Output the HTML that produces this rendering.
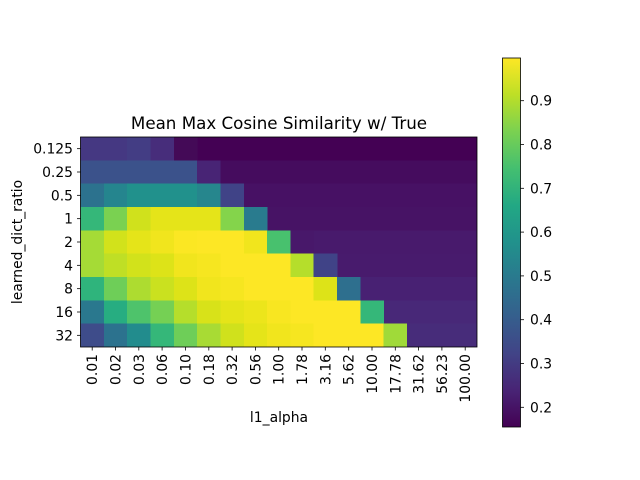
<!DOCTYPE html>
<html><head><meta charset="utf-8"><style>
html,body{margin:0;padding:0;background:#fff;}
svg{display:block;font-family:"DejaVu Sans","Liberation Sans",sans-serif;}
</style></head><body>
<svg width="640" height="480" viewBox="0 0 640 480" xmlns="http://www.w3.org/2000/svg">
<rect width="640" height="480" fill="#fff"/>
<defs><linearGradient id="vir" x1="0" y1="1" x2="0" y2="0">
<stop offset="0" stop-color="#440154"/><stop offset="0.1" stop-color="#482475"/><stop offset="0.2" stop-color="#414487"/><stop offset="0.3" stop-color="#355f8d"/><stop offset="0.4" stop-color="#2a788e"/><stop offset="0.5" stop-color="#21918c"/><stop offset="0.6" stop-color="#22a884"/><stop offset="0.7" stop-color="#44bf70"/><stop offset="0.8" stop-color="#7ad151"/><stop offset="0.9" stop-color="#bddf26"/><stop offset="1" stop-color="#fde725"/>
</linearGradient></defs>
<g shape-rendering="crispEdges" transform="translate(80.5,0) scale(0.941176,1) translate(-80.5,0)">
<rect x="80.5" y="137" width="421.3" height="23.8" fill="#440154"/>
<rect x="80.5" y="137" width="49.8" height="23.8" fill="#453882"/>
<rect x="130.06" y="137" width="25" height="23.8" fill="#433d84"/>
<rect x="154.84" y="137" width="25" height="23.8" fill="#472d7b"/>
<rect x="179.63" y="137" width="25" height="23.8" fill="#440a57"/>
<rect x="80.5" y="160.33" width="421.3" height="23.8" fill="#450c5e"/>
<rect x="80.5" y="160.33" width="124.2" height="23.8" fill="#3b528b"/>
<rect x="204.41" y="160.33" width="25" height="23.8" fill="#482475"/>
<rect x="80.5" y="183.67" width="421.3" height="23.8" fill="#471164"/>
<rect x="80.5" y="183.67" width="25" height="23.8" fill="#2c728e"/>
<rect x="105.28" y="183.67" width="25" height="23.8" fill="#25858e"/>
<rect x="130.06" y="183.67" width="74.6" height="23.8" fill="#21918c"/>
<rect x="204.41" y="183.67" width="25" height="23.8" fill="#26868d"/>
<rect x="229.19" y="183.67" width="25" height="23.8" fill="#404387"/>
<rect x="80.5" y="207" width="421.3" height="23.8" fill="#471365"/>
<rect x="80.5" y="207" width="25" height="23.8" fill="#35b779"/>
<rect x="105.28" y="207" width="25" height="23.8" fill="#7ad151"/>
<rect x="130.06" y="207" width="25" height="23.8" fill="#d0e11c"/>
<rect x="154.84" y="207" width="74.6" height="23.8" fill="#e5e419"/>
<rect x="229.19" y="207" width="25" height="23.8" fill="#84d44b"/>
<rect x="253.97" y="207" width="25" height="23.8" fill="#297b8e"/>
<rect x="80.5" y="230.33" width="421.3" height="23.8" fill="#481a6c"/>
<rect x="80.5" y="230.33" width="25" height="23.8" fill="#a5db36"/>
<rect x="105.28" y="230.33" width="25" height="23.8" fill="#d2e21b"/>
<rect x="130.06" y="230.33" width="25" height="23.8" fill="#e5e419"/>
<rect x="154.84" y="230.33" width="25" height="23.8" fill="#f1e51d"/>
<rect x="179.63" y="230.33" width="25" height="23.8" fill="#fbe723"/>
<rect x="204.41" y="230.33" width="49.8" height="23.8" fill="#fde725"/>
<rect x="253.97" y="230.33" width="25" height="23.8" fill="#f1e51d"/>
<rect x="278.75" y="230.33" width="25" height="23.8" fill="#48c16e"/>
<rect x="303.53" y="230.33" width="25" height="23.8" fill="#48186a"/>
<rect x="80.5" y="253.67" width="421.3" height="23.8" fill="#481b6d"/>
<rect x="80.5" y="253.67" width="25" height="23.8" fill="#a5db36"/>
<rect x="105.28" y="253.67" width="25" height="23.8" fill="#bfdf25"/>
<rect x="130.06" y="253.67" width="25" height="23.8" fill="#d2e21b"/>
<rect x="154.84" y="253.67" width="25" height="23.8" fill="#dde318"/>
<rect x="179.63" y="253.67" width="25" height="23.8" fill="#f1e51d"/>
<rect x="204.41" y="253.67" width="25" height="23.8" fill="#f6e620"/>
<rect x="229.19" y="253.67" width="74.6" height="23.8" fill="#fde725"/>
<rect x="303.53" y="253.67" width="25" height="23.8" fill="#b5de2b"/>
<rect x="328.31" y="253.67" width="25" height="23.8" fill="#404387"/>
<rect x="80.5" y="277" width="421.3" height="23.8" fill="#482173"/>
<rect x="80.5" y="277" width="25" height="23.8" fill="#2fb47c"/>
<rect x="105.28" y="277" width="25" height="23.8" fill="#6ece58"/>
<rect x="130.06" y="277" width="25" height="23.8" fill="#addc30"/>
<rect x="154.84" y="277" width="25" height="23.8" fill="#cae11f"/>
<rect x="179.63" y="277" width="25" height="23.8" fill="#dde318"/>
<rect x="204.41" y="277" width="25" height="23.8" fill="#f1e51d"/>
<rect x="229.19" y="277" width="25" height="23.8" fill="#f6e620"/>
<rect x="253.97" y="277" width="74.6" height="23.8" fill="#fde725"/>
<rect x="328.31" y="277" width="25" height="23.8" fill="#dde318"/>
<rect x="353.09" y="277" width="25" height="23.8" fill="#2e6f8e"/>
<rect x="80.5" y="300.33" width="421.3" height="23.8" fill="#482878"/>
<rect x="80.5" y="300.33" width="25" height="23.8" fill="#2a788e"/>
<rect x="105.28" y="300.33" width="25" height="23.8" fill="#27ad81"/>
<rect x="130.06" y="300.33" width="25" height="23.8" fill="#4ec36b"/>
<rect x="154.84" y="300.33" width="25" height="23.8" fill="#75d054"/>
<rect x="179.63" y="300.33" width="25" height="23.8" fill="#b5de2b"/>
<rect x="204.41" y="300.33" width="25" height="23.8" fill="#d8e219"/>
<rect x="229.19" y="300.33" width="25" height="23.8" fill="#e5e419"/>
<rect x="253.97" y="300.33" width="25" height="23.8" fill="#ece51b"/>
<rect x="278.75" y="300.33" width="25" height="23.8" fill="#f8e621"/>
<rect x="303.53" y="300.33" width="74.6" height="23.8" fill="#fde725"/>
<rect x="377.88" y="300.33" width="25" height="23.8" fill="#35b779"/>
<rect x="80.5" y="323.67" width="421.3" height="23.33" fill="#472c7a"/>
<rect x="80.5" y="323.67" width="25" height="23.33" fill="#3e4c8a"/>
<rect x="105.28" y="323.67" width="25" height="23.33" fill="#2c728e"/>
<rect x="130.06" y="323.67" width="25" height="23.33" fill="#228c8d"/>
<rect x="154.84" y="323.67" width="25" height="23.33" fill="#35b779"/>
<rect x="179.63" y="323.67" width="25" height="23.33" fill="#6ece58"/>
<rect x="204.41" y="323.67" width="25" height="23.33" fill="#a8db34"/>
<rect x="229.19" y="323.67" width="25" height="23.33" fill="#d0e11c"/>
<rect x="253.97" y="323.67" width="25" height="23.33" fill="#e5e419"/>
<rect x="278.75" y="323.67" width="25" height="23.33" fill="#f1e51d"/>
<rect x="303.53" y="323.67" width="25" height="23.33" fill="#f6e620"/>
<rect x="328.31" y="323.67" width="74.6" height="23.33" fill="#fde725"/>
<rect x="402.66" y="323.67" width="25" height="23.33" fill="#a0da39"/>
</g>
<rect x="80.5" y="137" width="396.5" height="210" fill="none" stroke="#000" stroke-width="0.8"/>
<g stroke="#000" stroke-width="0.8">
<line x1="77" x2="80.5" y1="148.67" y2="148.67"/><line x1="77" x2="80.5" y1="172" y2="172"/><line x1="77" x2="80.5" y1="195.33" y2="195.33"/><line x1="77" x2="80.5" y1="218.67" y2="218.67"/><line x1="77" x2="80.5" y1="242" y2="242"/><line x1="77" x2="80.5" y1="265.33" y2="265.33"/><line x1="77" x2="80.5" y1="288.67" y2="288.67"/><line x1="77" x2="80.5" y1="312" y2="312"/><line x1="77" x2="80.5" y1="335.33" y2="335.33"/>
<line x1="92.2" x2="92.2" y1="347" y2="350.5"/><line x1="115.5" x2="115.5" y1="347" y2="350.5"/><line x1="138.8" x2="138.8" y1="347" y2="350.5"/><line x1="162.1" x2="162.1" y1="347" y2="350.5"/><line x1="185.4" x2="185.4" y1="347" y2="350.5"/><line x1="208.8" x2="208.8" y1="347" y2="350.5"/><line x1="232.1" x2="232.1" y1="347" y2="350.5"/><line x1="255.4" x2="255.4" y1="347" y2="350.5"/><line x1="278.7" x2="278.7" y1="347" y2="350.5"/><line x1="302" x2="302" y1="347" y2="350.5"/><line x1="325.3" x2="325.3" y1="347" y2="350.5"/><line x1="348.7" x2="348.7" y1="347" y2="350.5"/><line x1="372" x2="372" y1="347" y2="350.5"/><line x1="395.3" x2="395.3" y1="347" y2="350.5"/><line x1="418.6" x2="418.6" y1="347" y2="350.5"/><line x1="441.9" x2="441.9" y1="347" y2="350.5"/><line x1="465.2" x2="465.2" y1="347" y2="350.5"/>
</g>
<g font-size="13.9" text-anchor="end">
<text x="73" y="153.7">0.125</text><text x="73" y="177">0.25</text><text x="73" y="200.3">0.5</text><text x="73" y="223.7">1</text><text x="73" y="247">2</text><text x="73" y="270.3">4</text><text x="73" y="293.7">8</text><text x="73" y="317">16</text><text x="73" y="340.3">32</text>
<text transform="translate(97.2,354) rotate(-90)">0.01</text>
<text transform="translate(120.5,354) rotate(-90)">0.02</text>
<text transform="translate(143.8,354) rotate(-90)">0.03</text>
<text transform="translate(167.1,354) rotate(-90)">0.06</text>
<text transform="translate(190.4,354) rotate(-90)">0.10</text>
<text transform="translate(213.8,354) rotate(-90)">0.18</text>
<text transform="translate(237.1,354) rotate(-90)">0.32</text>
<text transform="translate(260.4,354) rotate(-90)">0.56</text>
<text transform="translate(283.7,354) rotate(-90)">1.00</text>
<text transform="translate(307,354) rotate(-90)">1.78</text>
<text transform="translate(330.3,354) rotate(-90)">3.16</text>
<text transform="translate(353.7,354) rotate(-90)">5.62</text>
<text transform="translate(377,354) rotate(-90)">10.00</text>
<text transform="translate(400.3,354) rotate(-90)">17.78</text>
<text transform="translate(423.6,354) rotate(-90)">31.62</text>
<text transform="translate(446.9,354) rotate(-90)">56.23</text>
<text transform="translate(470.2,354) rotate(-90)">100.00</text>
</g>
<text x="279" y="129" font-size="16.7" text-anchor="middle">Mean Max Cosine Similarity w/ True</text>
<text x="279" y="422" font-size="13.9" text-anchor="middle">l1_alpha</text>
<text transform="translate(22,242) rotate(-90)" font-size="13.9" text-anchor="middle">learned_dict_ratio</text>
<rect x="502.5" y="58" width="18" height="369" fill="url(#vir)" stroke="#000" stroke-width="0.8"/>
<g stroke="#000" stroke-width="0.8">
<line x1="520.5" x2="524" y1="100.7" y2="100.7"/><line x1="520.5" x2="524" y1="144.5" y2="144.5"/><line x1="520.5" x2="524" y1="188.3" y2="188.3"/><line x1="520.5" x2="524" y1="232.1" y2="232.1"/><line x1="520.5" x2="524" y1="275.9" y2="275.9"/><line x1="520.5" x2="524" y1="319.7" y2="319.7"/><line x1="520.5" x2="524" y1="363.5" y2="363.5"/><line x1="520.5" x2="524" y1="407.3" y2="407.3"/>
</g>
<g font-size="13.9">
<text x="530" y="105.7">0.9</text><text x="530" y="149.5">0.8</text><text x="530" y="193.3">0.7</text><text x="530" y="237.1">0.6</text><text x="530" y="280.9">0.5</text><text x="530" y="324.7">0.4</text><text x="530" y="368.5">0.3</text><text x="530" y="412.3">0.2</text>
</g>
</svg>
</body></html>
